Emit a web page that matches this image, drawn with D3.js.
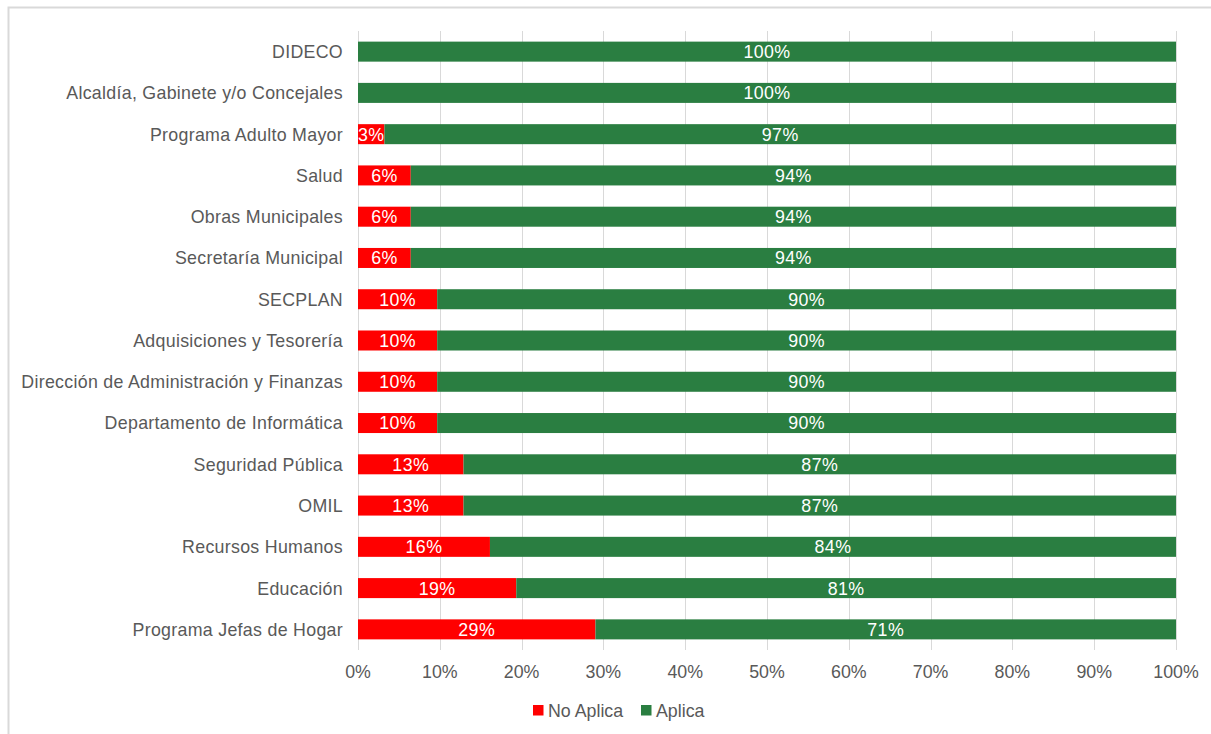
<!DOCTYPE html>
<html>
<head>
<meta charset="utf-8">
<script src="https://cdn.jsdelivr.net/npm/d3@7"></script>
<style>
    body { margin: 0; background: #fff; }
    svg { font-family: "Liberation Sans", Arial, sans-serif; }
    .grid line { stroke: #d9d9d9; shape-rendering: crispEdges; }
    .grid path { stroke-width: 0; }
</style>
</head>
<body>
<script>
    var categories = [
        "DIDECO",
        "Alcaldía, Gabinete y/o Concejales",
        "Programa Adulto Mayor",
        "Salud",
        "Obras Municipales",
        "Secretaría Municipal",
        "SECPLAN",
        "Adquisiciones y Tesorería",
        "Dirección de Administración y Finanzas",
        "Departamento de Informática",
        "Seguridad Pública",
        "OMIL",
        "Recursos Humanos",
        "Educación",
        "Programa Jefas de Hogar"
    ];
    var noAplica = [0, 0, 3.23, 6.45, 6.45, 6.45, 9.68, 9.68, 9.68, 9.68, 12.9, 12.9, 16.13, 19.35, 29.03];
    var aplica   = [100, 100, 96.77, 93.55, 93.55, 93.55, 90.32, 90.32, 90.32, 90.32, 87.1, 87.1, 83.87, 80.65, 70.97];
    var seriesNames = ["No Aplica", "Aplica"];
    var seriesColors = ["#ff0000", "#2a7e41"];
    var xTicks = [0, 10, 20, 30, 40, 50, 60, 70, 80, 90, 100];

    var width = 1211, height = 734;
    var margin = { left: 358, right: 35, top: 31, bottom: 84 };
    var fontSize = "17.8px";

    var svg = d3.select("body").append("svg")
        .attr("width", width)
        .attr("height", height);

    // chart frame
    svg.append("rect")
        .attr("x", 8.5).attr("y", 7.5)
        .attr("width", width + 10).attr("height", height + 10)
        .attr("fill", "none")
        .attr("stroke", "#d9d9d9")
        .attr("stroke-width", 2);

    var x = d3.scaleLinear().domain([0, 100]).range([margin.left, width - margin.right]);
    var y = d3.scaleBand().domain(categories)
        .range([margin.top, height - margin.bottom])
        .paddingInner(0.515).paddingOuter(0.2575);

    svg.append("g")
        .attr("class", "grid")
        .attr("transform", "translate(0," + (height - margin.bottom) + ")")
        .call(d3.axisBottom(x).tickValues(xTicks).tickSize(-(height - margin.top - margin.bottom)).tickFormat(""));

    var rows = categories.map(function (c, i) {
        return { cat: c, values: [noAplica[i], aplica[i]] };
    });

    var segs = [];
    rows.forEach(function (r) {
        var start = 0;
        r.values.forEach(function (v, k) {
            segs.push({ cat: r.cat, k: k, x0: start, x1: start + v, v: v });
            start += v;
        });
    });
    segs = segs.filter(function (d) { return d.v > 0; });

    svg.append("g").selectAll("rect")
        .data(segs)
        .enter().append("rect")
        .attr("x", function (d) { return x(d.x0); })
        .attr("y", function (d) { return y(d.cat); })
        .attr("width", function (d) { return x(d.x1) - x(d.x0); })
        .attr("height", y.bandwidth())
        .attr("fill", function (d) { return seriesColors[d.k]; });

    svg.append("g").selectAll("text")
        .data(segs)
        .enter().append("text")
        .attr("x", function (d) { return (x(d.x0) + x(d.x1)) / 2; })
        .attr("y", function (d) { return y(d.cat) + y.bandwidth() / 2; })
        .attr("dy", "0.36em")
        .attr("text-anchor", "middle")
        .attr("fill", "#fff")
        .attr("font-size", fontSize)
        .attr("letter-spacing", "0.4px")
        .text(function (d) { return Math.round(d.v) + "%"; });

    // category labels
    svg.append("g").selectAll("text")
        .data(categories)
        .enter().append("text")
        .attr("x", margin.left - 15)
        .attr("y", function (d) { return y(d) + y.bandwidth() / 2; })
        .attr("dy", "0.36em")
        .attr("text-anchor", "end")
        .attr("fill", "#595959")
        .attr("font-size", fontSize)
        .attr("letter-spacing", "0.3px")
        .text(function (d) { return d; });

    // x tick labels
    svg.append("g").selectAll("text")
        .data(xTicks)
        .enter().append("text")
        .attr("x", function (d) { return x(d); })
        .attr("y", 672)
        .attr("dy", "0.36em")
        .attr("text-anchor", "middle")
        .attr("fill", "#595959")
        .attr("font-size", fontSize)
        .text(function (d) { return d + "%"; });

    // legend
    var legendX = [533, 641];
    var legend = svg.append("g").selectAll("g")
        .data(seriesNames)
        .enter().append("g")
        .attr("transform", function (d, i) { return "translate(" + legendX[i] + ",705)"; });
    legend.append("rect")
        .attr("width", 10.5).attr("height", 10.5)
        .attr("fill", function (d, i) { return seriesColors[i]; });
    legend.append("text")
        .attr("x", 15).attr("y", 5.5)
        .attr("dy", "0.36em")
        .attr("fill", "#595959")
        .attr("font-size", fontSize)
        .text(function (d) { return d; });
</script>
</body>
</html>
